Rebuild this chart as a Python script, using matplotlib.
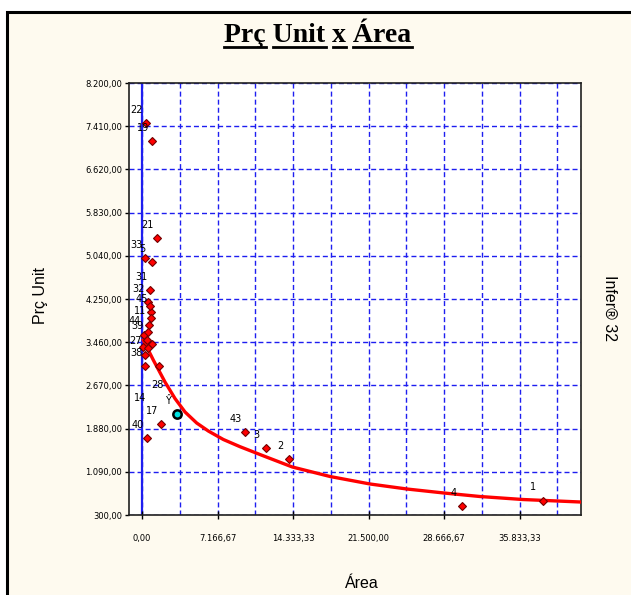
import matplotlib
matplotlib.use("Agg")
import matplotlib.pyplot as plt
from matplotlib.patches import Rectangle
from matplotlib.lines import Line2D

# pontos da amostra (area, preco unitario) e os rotulos
areas = [350, 920, 1395, 285, 920, 760, 540, 854, 693, 190, 446, 285, 285,
         760, 825, 920, 123, 600, 1645, 600,
         1775, 445, 9775, 11740, 13950, 30400, 38000]
precos = [7467, 7143, 5359, 4998, 4925, 4411, 4191, 4008, 3783, 3600, 3508, 3233, 3018,
          4118, 3905, 3434, 3374, 3356, 3018, 3642,
          1968, 1706, 1821, 1523, 1321, 470, 562]
rotulos = ['22', '19', '21', '33', '5', '31', '32', '45', '11', '44', '39', '27', '38',
           '', '', '', '', '', '', '',
           '17', '40', '43', '3', '2', '4', '1']

# rotulos que aparecem sem ponto visivel
extra_txt = ['14', '28']
extra_x = [-190, 1423]
extra_y = [2445, 2683]

# valor estimado
est_x = 3290
est_y = 2151

# curva ajustada
curva_x = [123, 1072, 2182, 3131, 4080, 5190, 6291, 7714, 9300, 11671, 14261,
           17841, 21636, 25147, 28658, 32073, 36153, 41561]
curva_y = [3500, 3134, 2732, 2430, 2184, 1982, 1836, 1681, 1549, 1370, 1178,
           1004, 867, 775, 702, 638, 583, 538]

x_ticks = [0, 7166.67, 14333.33, 21500.00, 28666.67, 35833.33]
x_ticklabels = ['0,00', '7.166,67', '14.333,33', '21.500,00', '28.666,67', '35.833,33']
x_grid = [3583.33 * k for k in range(1, 12)]
y_ticks = [300, 1090, 1880, 2670, 3460, 4250, 5040, 5830, 6620, 7410, 8200]
y_ticklabels = ['300,00', '1.090,00', '1.880,00', '2.670,00', '3.460,00', '4.250,00',
                '5.040,00', '5.830,00', '6.620,00', '7.410,00', '8.200,00']

creme = '#FEFAEF'
azul = '#1E1EF0'

fig = plt.figure(figsize=(6.31, 5.95), dpi=100, facecolor='white')
fig.add_artist(Rectangle((7 / 631, -0.1), 1.2, 1.1 - 12 / 595, transform=fig.transFigure,
                         facecolor=creme, edgecolor='black', linewidth=2.2, zorder=-5))

ax = fig.add_axes([129 / 631, 1 - 515 / 595, (581 - 129) / 631, (515 - 83) / 595])
ax.set_facecolor('white')
ax.set_xlim(-1234, 41650)
ax.set_ylim(300, 8200)

ax.set_xticks(x_ticks)
ax.set_xticklabels(x_ticklabels)
ax.set_xticks(x_grid, minor=True)
ax.set_yticks(y_ticks)
ax.set_yticklabels(y_ticklabels)
ax.tick_params(axis='x', which='major', direction='inout', length=6, width=1, pad=11, labelsize=6)
ax.tick_params(axis='x', which='minor', length=0)
ax.tick_params(axis='y', direction='out', length=3, width=1, pad=2, labelsize=6)
for lab in ax.get_xticklabels() + ax.get_yticklabels():
    lab.set_family('DejaVu Sans')

ax.grid(True, axis='y', which='major', color=azul, linestyle=(0, (3.6, 2.2)), linewidth=1.0)
ax.grid(True, axis='x', which='both', color=azul, linestyle=(0, (3.6, 2.2)), linewidth=1.0)
ax.axvline(0, color=azul, linewidth=1.6, zorder=1)
for s in ax.spines.values():
    s.set_linewidth(1.2)
    s.set_color('#202020')

ax.plot(curva_x, curva_y, color='#FF0000', linewidth=2.4, zorder=3)
ax.plot(areas, precos, linestyle='none', marker='D', markersize=4.5,
        markerfacecolor='#FF0000', markeredgecolor='#700000', markeredgewidth=0.8, zorder=4)
ax.plot([est_x], [est_y], linestyle='none', marker='o', markersize=6,
        markerfacecolor='#00E0E0', markeredgecolor='black', markeredgewidth=1.8, zorder=5)

for xv, yv, t in zip(areas, precos, rotulos):
    if t:
        ax.annotate(t, (xv, yv), xytext=(-6.5, 9.5), textcoords='offset points',
                    ha='center', va='center', fontsize=7, color='black', zorder=6)
for xv, yv, t in zip(extra_x, extra_y, extra_txt):
    ax.text(xv, yv, t, ha='center', va='center', fontsize=7, color='black', zorder=6)
ax.annotate('Ŷ', (est_x, est_y), xytext=(-6.5, 9.5), textcoords='offset points',
            ha='center', va='center', fontsize=7, color='black', zorder=6)

# titulo sublinhado palavra por palavra
palavras = ['Prç', 'Unit', 'x', 'Área']
tfont = dict(family='Liberation Serif', weight='bold', size=20)
base_y = 1 - 42 / 595
titulo = fig.text(318 / 631, base_y, ' '.join(palavras), ha='center', va='baseline', **tfont)
r = fig.canvas.get_renderer()
bb = titulo.get_window_extent(r)


def largura(s):
    tmp = fig.text(0, 0, s, **tfont)
    w = tmp.get_window_extent(r).width
    tmp.remove()
    return w


for i, p in enumerate(palavras):
    pre = ' '.join(palavras[:i]) + (' ' if i else '')
    fim = largura(pre + p)
    ini = fim - largura(p)
    yl = base_y - 4.5 / 595
    fig.add_artist(Line2D([(bb.x0 + ini) / 631, (bb.x0 + fim) / 631], [yl, yl],
                          transform=fig.transFigure, color='black', linewidth=2.0))

fig.text(40 / 631, 1 - 296 / 595, 'Prç Unit', rotation=90, ha='center', va='center',
         family='Liberation Sans', size=11.5)
fig.text(610 / 631, 1 - 308 / 595, 'Infer® 32', rotation=270, ha='center', va='center',
         family='Liberation Sans', size=11.5)
fig.text(362 / 631, 1 - 584 / 595, 'Área', ha='center', va='center',
         family='Liberation Sans', size=11.5)

fig.savefig('out.png', dpi=100, facecolor=fig.get_facecolor())
